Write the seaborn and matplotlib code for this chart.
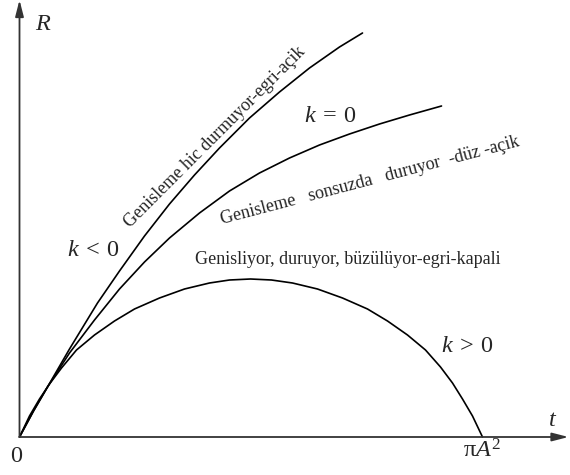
import numpy as np
import pandas as pd
import matplotlib.pyplot as plt
import seaborn as sns

# values (t and R in arbitrary units, R(0)=0 at origin)
t_open = [0, 14, 28, 50, 78, 100, 125, 150, 175, 200, 230, 260, 290, 320, 343]
R_open = [0, 26, 50, 88, 134, 166, 201, 233, 262, 289, 319, 345, 369, 390, 404]

t_flat = [0, 14, 28, 50, 75, 100, 125, 150, 180, 210, 240, 270, 300, 330, 360, 390, 422]
R_flat = [0, 26, 50, 84, 117, 148, 175, 199, 224, 246, 264, 279, 292, 303, 313, 322, 331]

t_closed = [0, 10, 20, 30, 42, 57, 75, 95, 115, 140, 165, 190, 210, 231,
            252, 273, 298, 323, 348, 368, 388, 406, 421, 433, 443, 453, 463]
R_closed = [0, 21, 38, 53, 69, 87, 102, 116, 128, 139, 148, 154, 157, 158,
            157, 154, 148, 139, 128, 116, 102, 87, 70, 54, 38, 21, 0]

curve_names = ["k<0", "k=0", "k>0"]

df = pd.concat([
    pd.DataFrame({"t": t_open, "R": R_open, "k": curve_names[0]}),
    pd.DataFrame({"t": t_flat, "R": R_flat, "k": curve_names[1]}),
    pd.DataFrame({"t": t_closed, "R": R_closed, "k": curve_names[2]}),
])

sns.set_style("white")
plt.rcParams["font.family"] = ["Liberation Serif", "DejaVu Serif"]
plt.rcParams["mathtext.fontset"] = "custom"
plt.rcParams["mathtext.rm"] = "Liberation Serif"
plt.rcParams["mathtext.it"] = "Liberation Serif:italic"

fig = plt.figure(figsize=(5.7, 4.75), dpi=100)
ax = fig.add_axes([0, 0, 1, 1])
sns.lineplot(data=df, x="t", y="R", hue="k", units="k", estimator=None, sort=False,
             palette=["black"] * 3, linewidth=1.2, legend=False, ax=ax)
for ln in ax.lines:
    ln.set_solid_joinstyle("round")
ax.set_xlim(-19.5, 550.5)
ax.set_ylim(-38, 437)
ax.axis("off")

# axes with arrows
arrow = dict(arrowstyle="-|>,head_length=0.7,head_width=0.18", color="#333333",
             lw=1.3, mutation_scale=14, shrinkA=0, shrinkB=0)
ax.annotate("", xy=(549, 0), xytext=(0, 0), arrowprops=arrow)
ax.annotate("", xy=(0, 437), xytext=(0, 0), arrowprops=arrow)

big = 17.5
ax.text(24, 413, "$R$", fontsize=big, ha="center", va="center")
ax.text(533, 16, "$t$", fontsize=big, ha="center", va="center")
ax.text(-3, -20, "0", fontsize=big, ha="center", va="center")
ax.text(463, -14, r"π$A^2$", fontsize=big, ha="center", va="center")
ax.text(74, 187, r"$k\:<\:0$", fontsize=big, ha="center", va="center")
ax.text(311, 321, r"$k\:=\:0$", fontsize=big, ha="center", va="center")
ax.text(448, 91, r"$k\:>\:0$", fontsize=big, ha="center", va="center")

small = 13
ax.text(328, 177, "Genisliyor, duruyor, büzülüyor-egri-kapali", fontsize=small,
        ha="center", va="center")
ax.text(195, 300, "Genisleme hic durmuyor-egri-açik", fontsize=small,
        ha="center", va="center", rotation=45, rotation_mode="anchor")
ax.text(350, 256, "Genisleme   sonsuzda   duruyor  -düz -açik", fontsize=small,
        ha="center", va="center", rotation=14.7, rotation_mode="anchor")

fig.savefig("out.png", dpi=100)
